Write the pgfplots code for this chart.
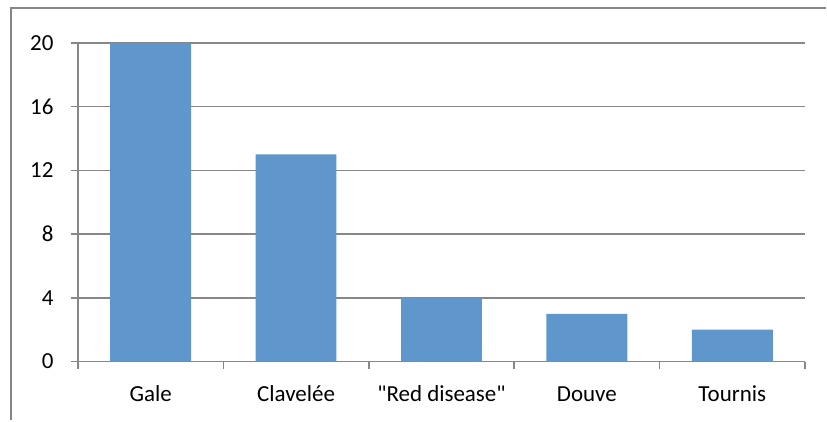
\documentclass[border=0pt]{standalone}
\usepackage{fontspec}
\setmainfont{Carlito}[Ligatures=TeXOff]
\usepackage{pgfplots}
\pgfplotsset{compat=1.18}

\definecolor{barblue}{RGB}{95,150,203}
\definecolor{gridgray}{RGB}{135,135,135}
\definecolor{framegray}{RGB}{134,134,134}

\begin{document}
\begin{tikzpicture}
\begin{axis}[
scale only axis,
width=728bp, height=319bp,
clip=false,
ymin=0, ymax=20,
xmin=-0.5, xmax=4.5,
ytick={0,4,8,12,16,20},
xtick={0,1,2,3,4},
xticklabels={Gale,Clavelée,"Red disease",Douve,Tournis},
minor xtick={-0.5,0.5,1.5,2.5,3.5,4.5},
major x tick style={draw=none},
minor tick length=7bp,
major tick length=7bp,
tick align=outside,
tick pos=left,
tick style={gridgray, line width=1.5bp},
axis x line*=bottom,
axis y line*=left,
axis line style={gridgray, line width=1.5bp},
ymajorgrids,
y grid style={gridgray, line width=1.5bp},
/pgf/number format/assume math mode=true,
ticklabel style={font=\fontsize{23bp}{27bp}\selectfont, text=black},
yticklabel style={xshift=-14bp},
xticklabel style={anchor=base, yshift=-33bp},
]
\addplot[ybar, bar width=81bp, fill=barblue, draw=none] coordinates {
(0,20) (1,13) (2,4) (3,3) (4,2)
};
\path (rel axis cs:-0.10714,-0.18495) rectangle (rel axis cs:1.02885,1.13480);
\draw[framegray, line width=2bp] (rel axis cs:-0.09203,-0.18495) -- (rel axis cs:-0.09203,1.10972) -- (rel axis cs:1.02885,1.10972);
\end{axis}
\end{tikzpicture}
\end{document}
